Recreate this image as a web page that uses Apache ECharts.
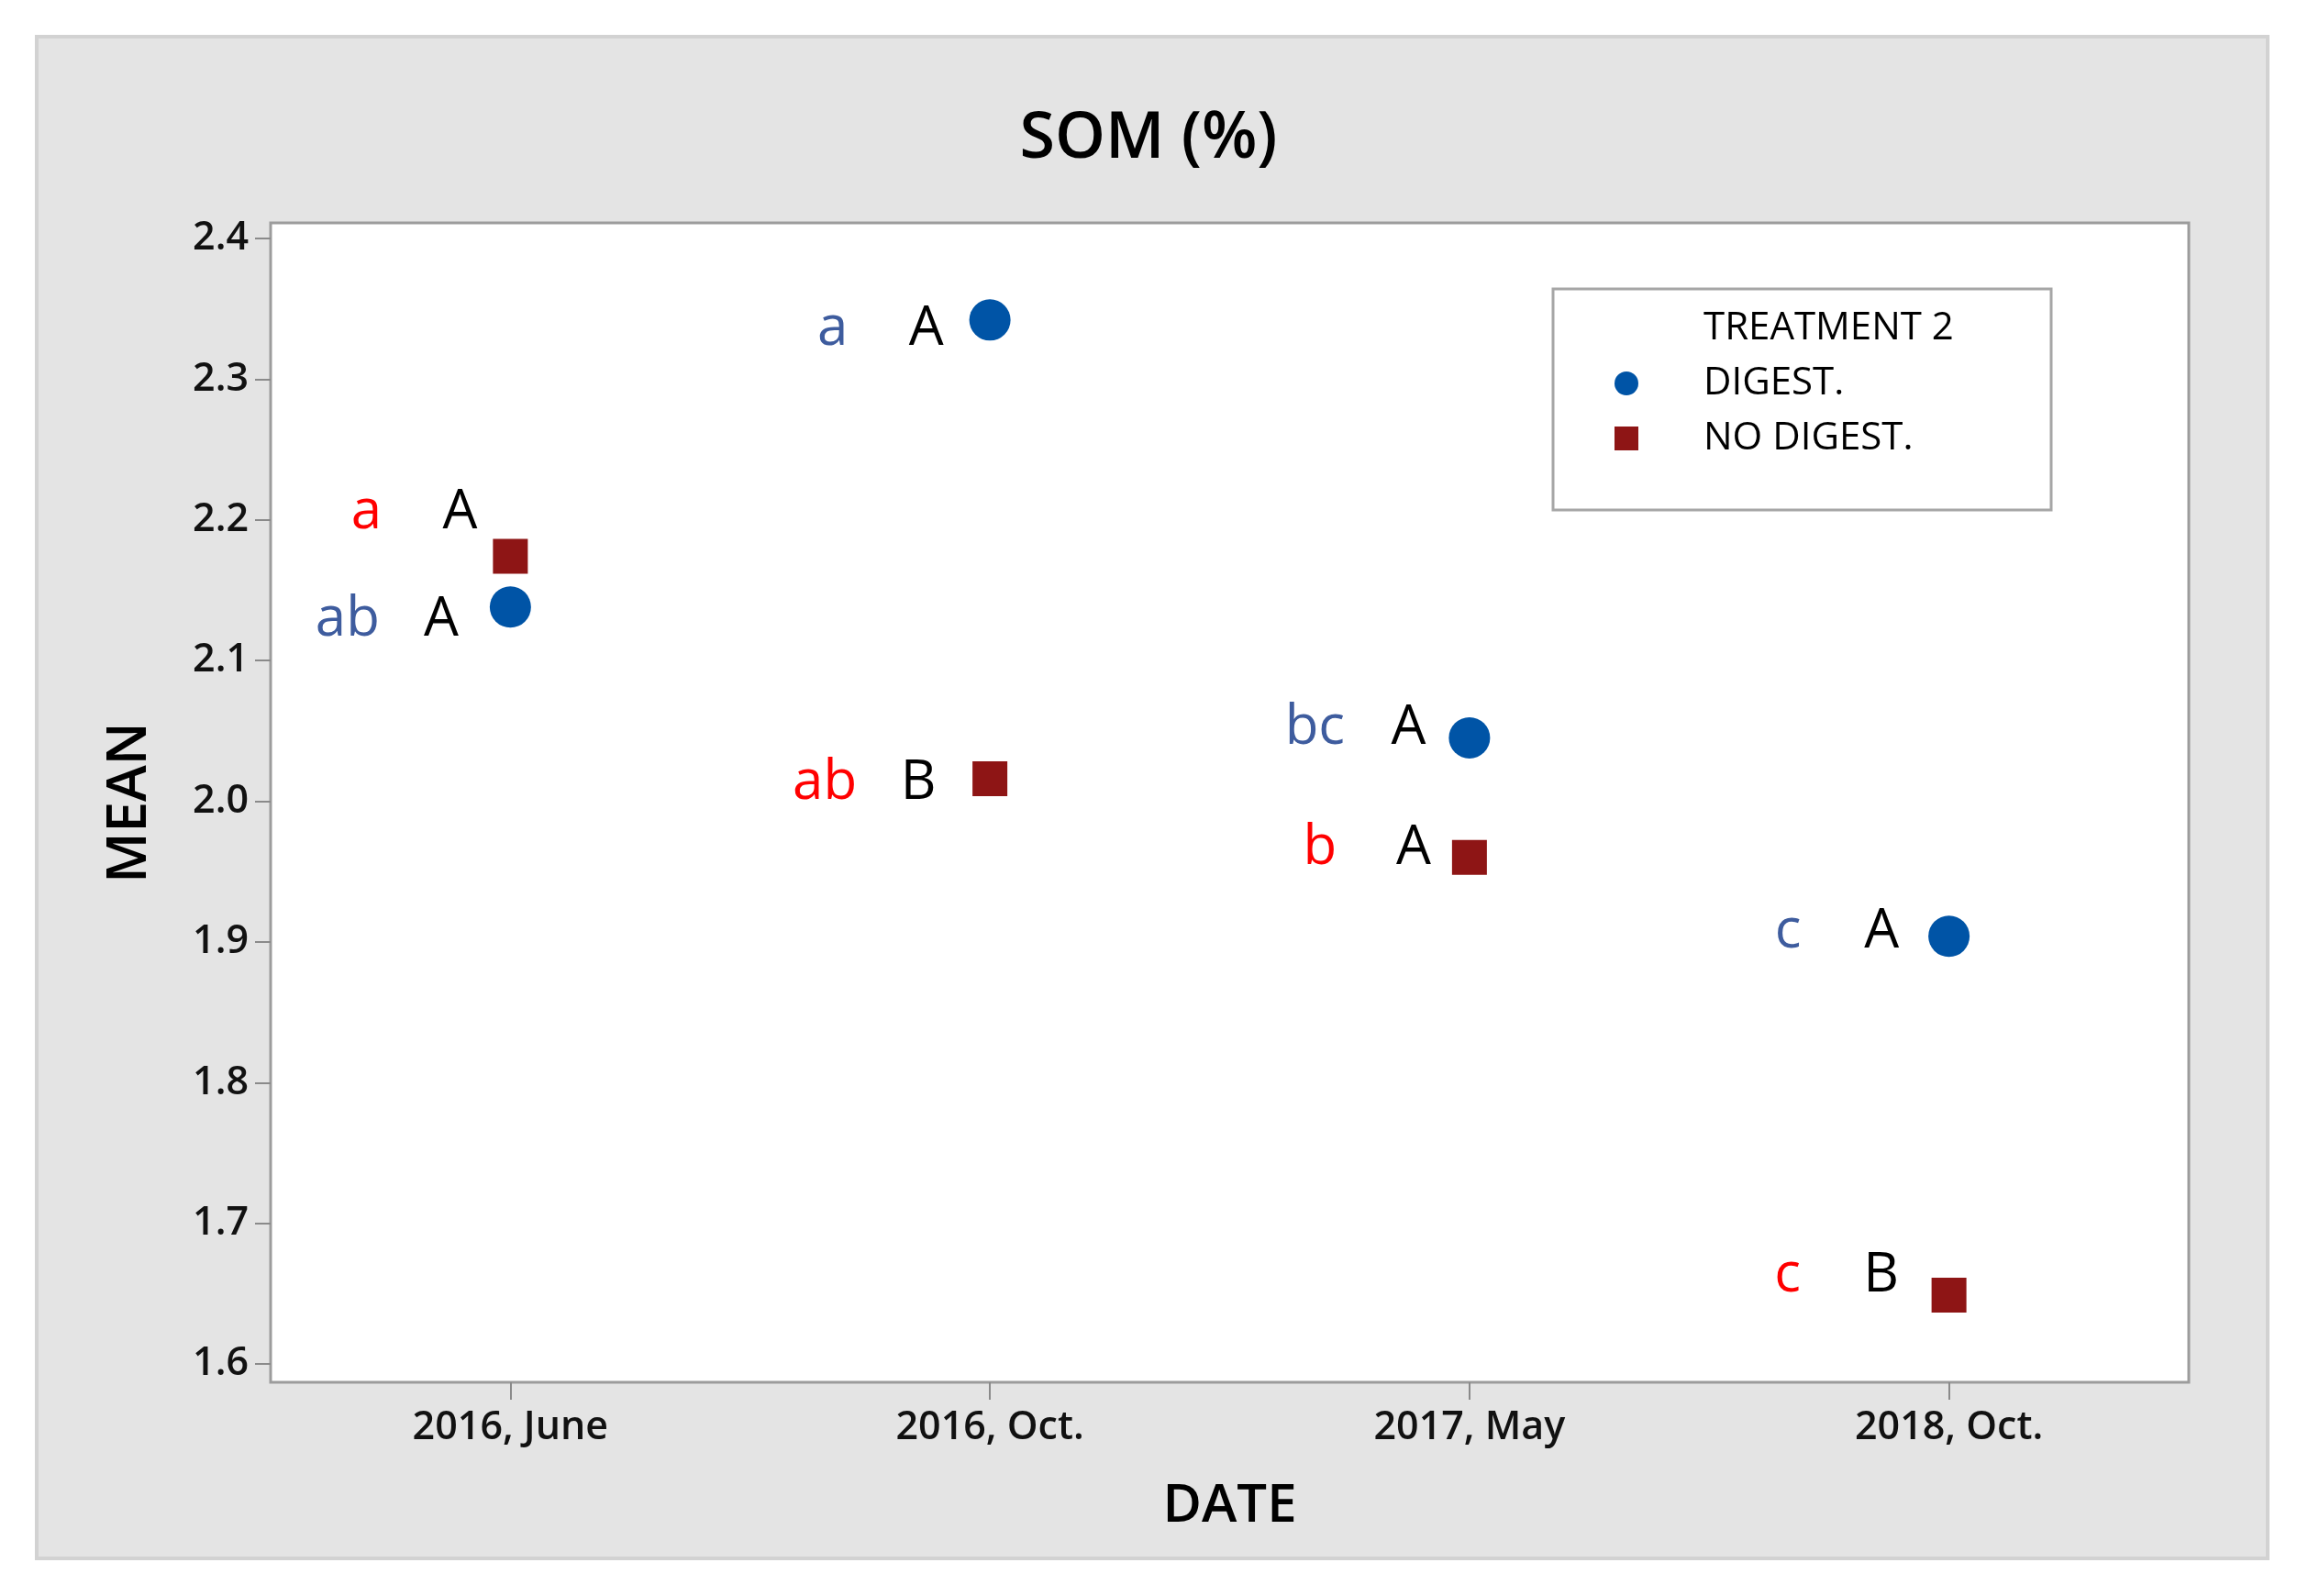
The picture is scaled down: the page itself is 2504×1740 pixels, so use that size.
<!DOCTYPE html>
<html>
<head>
<meta charset="utf-8">
<script src="https://cdn.jsdelivr.net/npm/echarts@6/dist/echarts.min.js"></script>
<style>
html,body{margin:0;padding:0;background:#fff;}
#chart{width:2504px;height:1740px;}
</style>
</head>
<body>
<div id="chart"></div>
<script>
// ---- data ----
const categories = ['2016, June', '2016, Oct.', '2017, May', '2018, Oct.'];
const digestMeans = [2.138, 2.342, 2.045, 1.904];
const noDigestMeans = [2.174, 2.016, 1.960, 1.649];
const digestLower = ['ab', 'a', 'bc', 'c'];
const digestUpper = ['A', 'A', 'A', 'A'];
const noDigestLower = ['a', 'ab', 'b', 'c'];
const noDigestUpper = ['A', 'B', 'A', 'B'];
const yTicks = [1.6, 1.7, 1.8, 1.9, 2.0, 2.1, 2.2, 2.3, 2.4];
const seriesNames = ['DIGEST.', 'NO DIGEST.'];
const legendTitle = 'TREATMENT 2';

// ---- layout (label nudges, px) ----
const digestLabelDx = [-6, 0, 3, -4];
const digestLabelDy = [14, 10, -11, -5];
const noDigestLabelDx = [14, -9, 8, -5];
const noDigestLabelDy = [-48, 5, -10, -21];

const FONT = '"Open Sans", "Noto Sans", sans-serif';
const BLUE = '#0054A6';
const DARKRED = '#8E1515';

function buildData(vals, lower, upper, dx, dy) {
  return vals.map((v, i) => ({
    value: [categories[i], v],
    label: { offset: [dx[i], dy[i]], formatter: '{lo|' + lower[i] + '}{gap|}{up|' + upper[i] + '}' }
  }));
}

function labelCfg(lowColor, dist) {
  return {
    show: true,
    position: 'left',
    distance: dist,
    rich: {
      lo: { fontFamily: FONT, fontSize: 60, color: lowColor, width: 84, align: 'center' },
      gap: { width: 40 },
      up: { fontFamily: FONT, fontSize: 60, color: '#000', width: 40, align: 'center' }
    }
  };
}

const chart = echarts.init(document.getElementById('chart'), null, { renderer: 'canvas' });
chart.setOption({
  backgroundColor: '#ffffff',
  animation: false,
  title: {
    text: 'SOM (%)',
    left: 'center',
    top: 112,
    textStyle: { fontFamily: FONT, fontSize: 70, fontWeight: 600, color: '#000' }
  },
  graphic: [
    { type: 'rect', z: -10, shape: { x: 40, y: 40, width: 2432, height: 1659 },
      style: { fill: '#E4E4E4', stroke: '#D2D2D2', lineWidth: 4 } },
    { type: 'rect', z: 10, shape: { x: 1693, y: 315, width: 543, height: 241 },
      style: { fill: 'rgba(0,0,0,0)', stroke: '#A6A6A6', lineWidth: 3 } },
    { type: 'text', z: 10, x: 1857, y: 358,
      style: { text: legendTitle, fontFamily: FONT, fontSize: 42, fontWeight: 500, fill: '#000', verticalAlign: 'middle' } }
  ],
  legend: {
    data: seriesNames,
    orient: 'vertical',
    left: 1755,
    top: 392,
    itemWidth: 26,
    itemHeight: 26,
    itemGap: 18,
    textStyle: { fontFamily: FONT, fontSize: 42, fontWeight: 500, color: '#000', padding: [0, 0, 0, 66] }
  },
  grid: {
    left: 295, right: 118, top: 243, bottom: 233,
    show: true, backgroundColor: '#ffffff', borderColor: '#9C9C9C', borderWidth: 3
  },
  xAxis: {
    type: 'category',
    data: categories,
    boundaryGap: true,
    name: 'DATE',
    nameLocation: 'middle',
    nameGap: 106,
    nameTextStyle: { fontFamily: FONT, fontSize: 58, fontWeight: 600, color: '#000' },
    axisLine: { show: false },
    axisTick: { show: true, alignWithLabel: true, length: 19, lineStyle: { color: '#8A8A8A', width: 2 } },
    axisLabel: { fontFamily: FONT, fontSize: 43, fontWeight: 600, color: '#111', margin: 28 },
    splitLine: { show: false }
  },
  yAxis: {
    type: 'value',
    min: 1.587,
    max: 2.411,
    name: 'MEAN',
    nameLocation: 'middle',
    nameGap: 123,
    nameTextStyle: { fontFamily: FONT, fontSize: 60, fontWeight: 600, color: '#000' },
    axisLine: { show: false },
    axisTick: { show: true, length: 17, customValues: yTicks, lineStyle: { color: '#8A8A8A', width: 2 } },
    axisLabel: { fontFamily: FONT, fontSize: 43, fontWeight: 600, color: '#111', margin: 24,
      customValues: yTicks, formatter: v => v.toFixed(1) },
    splitLine: { show: false }
  },
  series: [
    {
      name: seriesNames[0], type: 'scatter', symbol: 'circle', symbolSize: 45,
      itemStyle: { color: BLUE, opacity: 1 },
      label: labelCfg('#3E5C9E', 27),
      data: buildData(digestMeans, digestLower, digestUpper, digestLabelDx, digestLabelDy)
    },
    {
      name: seriesNames[1], type: 'scatter', symbol: 'rect', symbolSize: 38,
      itemStyle: { color: DARKRED, opacity: 1 },
      label: labelCfg('#FF0000', 30),
      data: buildData(noDigestMeans, noDigestLower, noDigestUpper, noDigestLabelDx, noDigestLabelDy)
    }
  ]
});
</script>
</body>
</html>
